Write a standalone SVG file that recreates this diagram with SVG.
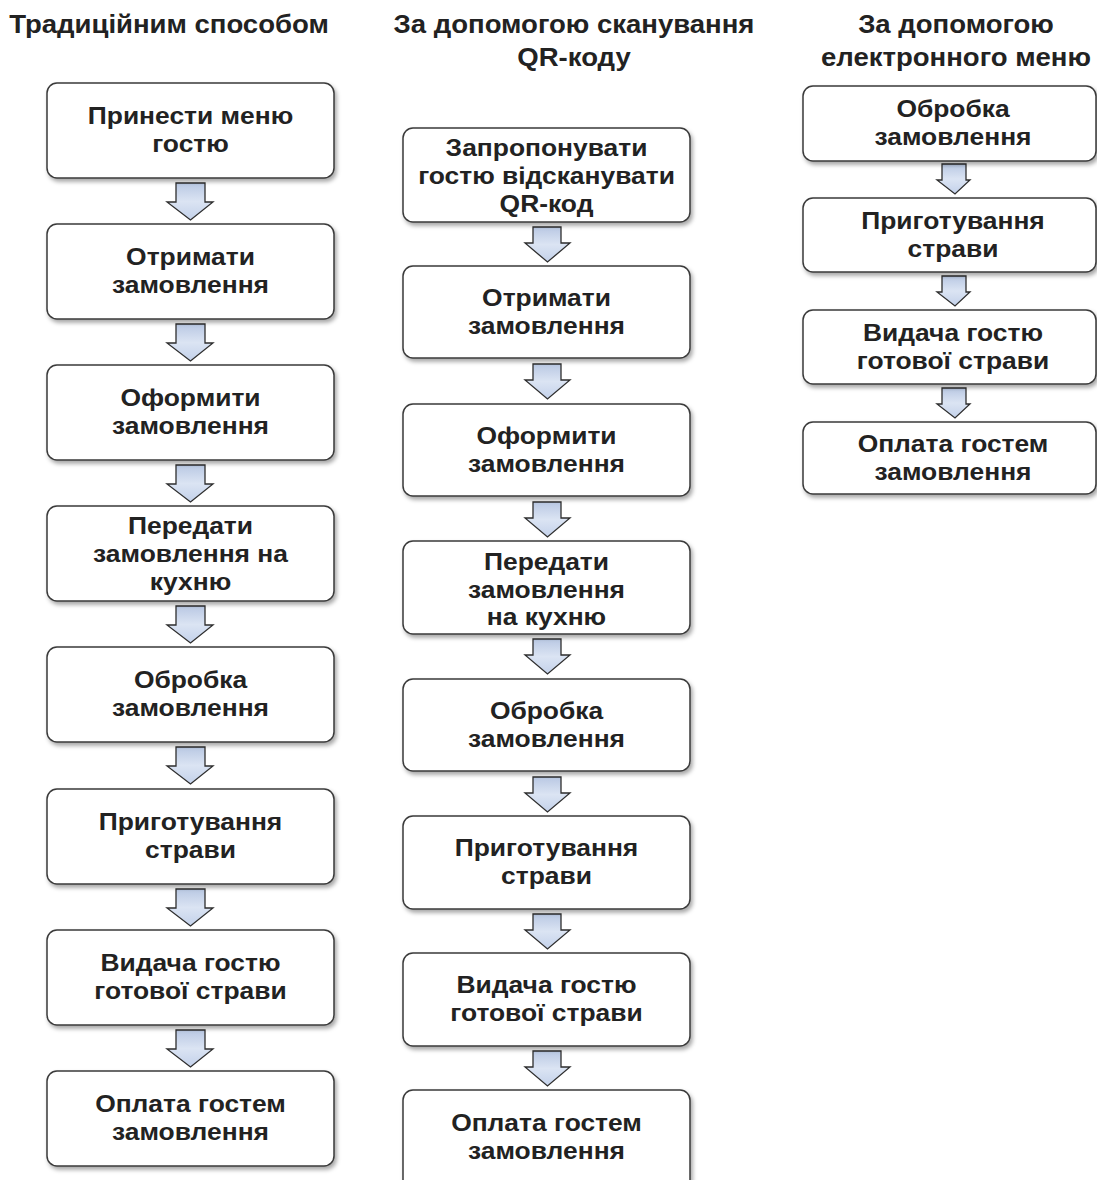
<svg xmlns="http://www.w3.org/2000/svg" width="1097" height="1180" viewBox="0 0 1097 1180">
<defs>
<filter id="sh" x="-10%" y="-10%" width="130%" height="140%">
<feDropShadow dx="2" dy="3" stdDeviation="2" flood-color="#000" flood-opacity="0.35"/>
</filter>
<linearGradient id="ag" x1="0" y1="0" x2="0" y2="1">
<stop offset="0" stop-color="#b9c8e3"/>
<stop offset="0.5" stop-color="#dbe4f3"/>
<stop offset="1" stop-color="#c3d1ea"/>
</linearGradient>
</defs>
<style>
.box{fill:#fff;stroke:#3a3a3a;stroke-width:1.5;filter:url(#sh)}
.t{font-family:"Liberation Sans",Arial,sans-serif;font-weight:bold;font-size:24px;fill:#222;text-anchor:middle}
.h{font-family:"Liberation Sans",Arial,sans-serif;font-weight:bold;font-size:25.5px;fill:#222;text-anchor:middle}
.ar{fill:url(#ag);stroke:#2e2e2e;stroke-width:1.3;stroke-linejoin:miter}
</style>
<g id="headers">
<g transform="translate(169 0) scale(1.08 1)"><text class="h" x="0" y="33">Традиційним способом</text></g>
<g transform="translate(574 0) scale(1.08 1)"><text class="h" x="0" y="33">За допомогою сканування</text><text class="h" x="0" y="66">QR-коду</text></g>
<g transform="translate(956 0) scale(1.08 1)"><text class="h" x="0" y="33">За допомогою</text><text class="h" x="0" y="66">електронного меню</text></g>
</g>
<g id="connectors">
<path class="ar" d="M176,183 H205 V202 H213 L190.5,220 L167,202 H176 Z"/>
<path class="ar" d="M176,324 H205 V343 H213 L190.5,361 L167,343 H176 Z"/>
<path class="ar" d="M176,465 H205 V484 H213 L190.5,502 L167,484 H176 Z"/>
<path class="ar" d="M176,606 H205 V625 H213 L190.5,643 L167,625 H176 Z"/>
<path class="ar" d="M176,747 H205 V766 H213 L190.5,784 L167,766 H176 Z"/>
<path class="ar" d="M176,889 H205 V908 H213 L190.5,926 L167,908 H176 Z"/>
<path class="ar" d="M176,1030 H205 V1049 H213 L190.5,1067 L167,1049 H176 Z"/>

<path class="ar" d="M533,227 H561 V243 H570 L547.5,262 L525,243 H533 Z"/>
<path class="ar" d="M533,364 H561 V380 H570 L547.5,399 L525,380 H533 Z"/>
<path class="ar" d="M533,502 H561 V518 H570 L547.5,537 L525,518 H533 Z"/>
<path class="ar" d="M533,639 H561 V655 H570 L547.5,674 L525,655 H533 Z"/>
<path class="ar" d="M533,777 H561 V793 H570 L547.5,812 L525,793 H533 Z"/>
<path class="ar" d="M533,914 H561 V930 H570 L547.5,949 L525,930 H533 Z"/>
<path class="ar" d="M533,1051 H561 V1067 H570 L547.5,1086 L525,1067 H533 Z"/>

<path class="ar" d="M942,164 H966 V180 H970 L955,194 L937,180 H942 Z"/>
<path class="ar" d="M942,276 H966 V292 H970 L955,306 L937,292 H942 Z"/>
<path class="ar" d="M942,388 H966 V404 H970 L955,418 L937,404 H942 Z"/>
</g>

<g id="c1n1"><rect class="box" x="47" y="83" width="287" height="95" rx="10"/><g transform="translate(190.5 0) scale(1.1 1)"><text class="t" y="124">Принести меню</text><text class="t" y="152">гостю</text></g></g>
<g id="c1n2"><rect class="box" x="47" y="224" width="287" height="95" rx="10"/><g transform="translate(190.5 0) scale(1.1 1)"><text class="t" y="265">Отримати</text><text class="t" y="293">замовлення</text></g></g>
<g id="c1n3"><rect class="box" x="47" y="365" width="287" height="95" rx="10"/><g transform="translate(190.5 0) scale(1.1 1)"><text class="t" y="406">Оформити</text><text class="t" y="434">замовлення</text></g></g>
<g id="c1n4"><rect class="box" x="47" y="506" width="287" height="95" rx="10"/><g transform="translate(190.5 0) scale(1.1 1)"><text class="t" y="534">Передати</text><text class="t" y="562">замовлення на</text><text class="t" y="590">кухню</text></g></g>
<g id="c1n5"><rect class="box" x="47" y="647" width="287" height="95" rx="10"/><g transform="translate(190.5 0) scale(1.1 1)"><text class="t" y="688">Обробка</text><text class="t" y="716">замовлення</text></g></g>
<g id="c1n6"><rect class="box" x="47" y="789" width="287" height="95" rx="10"/><g transform="translate(190.5 0) scale(1.1 1)"><text class="t" y="830">Приготування</text><text class="t" y="858">страви</text></g></g>
<g id="c1n7"><rect class="box" x="47" y="930" width="287" height="95" rx="10"/><g transform="translate(190.5 0) scale(1.1 1)"><text class="t" y="971">Видача гостю</text><text class="t" y="999">готової страви</text></g></g>
<g id="c1n8"><rect class="box" x="47" y="1071" width="287" height="95" rx="10"/><g transform="translate(190.5 0) scale(1.1 1)"><text class="t" y="1112">Оплата гостем</text><text class="t" y="1140">замовлення</text></g></g>

<g id="c2n1"><rect class="box" x="403" y="128" width="287" height="94" rx="10"/><g transform="translate(546.5 0) scale(1.1 1)"><text class="t" y="156">Запропонувати</text><text class="t" y="184">гостю відсканувати</text><text class="t" y="212">QR-код</text></g></g>
<g id="c2n2"><rect class="box" x="403" y="266" width="287" height="92" rx="10"/><g transform="translate(546.5 0) scale(1.1 1)"><text class="t" y="306">Отримати</text><text class="t" y="334">замовлення</text></g></g>
<g id="c2n3"><rect class="box" x="403" y="404" width="287" height="92" rx="10"/><g transform="translate(546.5 0) scale(1.1 1)"><text class="t" y="444">Оформити</text><text class="t" y="472">замовлення</text></g></g>
<g id="c2n4"><rect class="box" x="403" y="541" width="287" height="93" rx="10"/><g transform="translate(546.5 0) scale(1.1 1)"><text class="t" y="570">Передати</text><text class="t" y="598">замовлення</text><text class="t" y="625">на кухню</text></g></g>
<g id="c2n5"><rect class="box" x="403" y="679" width="287" height="92" rx="10"/><g transform="translate(546.5 0) scale(1.1 1)"><text class="t" y="719">Обробка</text><text class="t" y="747">замовлення</text></g></g>
<g id="c2n6"><rect class="box" x="403" y="816" width="287" height="93" rx="10"/><g transform="translate(546.5 0) scale(1.1 1)"><text class="t" y="856">Приготування</text><text class="t" y="884">страви</text></g></g>
<g id="c2n7"><rect class="box" x="403" y="953" width="287" height="93" rx="10"/><g transform="translate(546.5 0) scale(1.1 1)"><text class="t" y="993">Видача гостю</text><text class="t" y="1021">готової страви</text></g></g>
<g id="c2n8"><rect class="box" x="403" y="1090" width="287" height="100" rx="10"/><g transform="translate(546.5 0) scale(1.1 1)"><text class="t" y="1131">Оплата гостем</text><text class="t" y="1159">замовлення</text></g></g>

<g id="c3n1"><rect class="box" x="803" y="86" width="293" height="75" rx="10"/><g transform="translate(953 0) scale(1.1 1)"><text class="t" y="117">Обробка</text><text class="t" y="145">замовлення</text></g></g>
<g id="c3n2"><rect class="box" x="803" y="198" width="293" height="74" rx="10"/><g transform="translate(953 0) scale(1.1 1)"><text class="t" y="229">Приготування</text><text class="t" y="257">страви</text></g></g>
<g id="c3n3"><rect class="box" x="803" y="310" width="293" height="74" rx="10"/><g transform="translate(953 0) scale(1.1 1)"><text class="t" y="341">Видача гостю</text><text class="t" y="369">готової страви</text></g></g>
<g id="c3n4"><rect class="box" x="803" y="422" width="293" height="72" rx="10"/><g transform="translate(953 0) scale(1.1 1)"><text class="t" y="452">Оплата гостем</text><text class="t" y="480">замовлення</text></g></g>
</svg>
